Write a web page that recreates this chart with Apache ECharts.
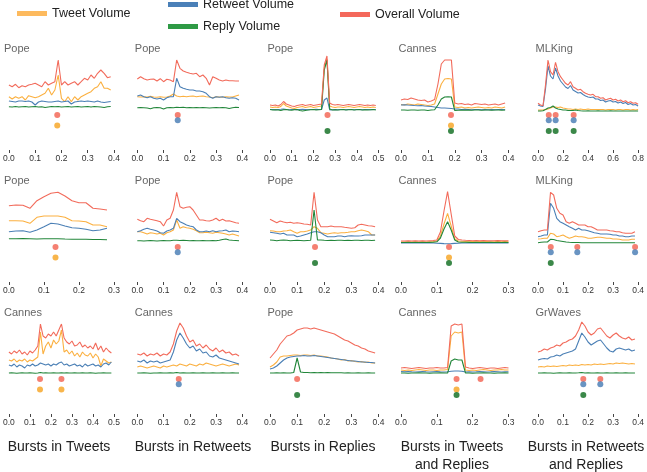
<!DOCTYPE html>
<html><head><meta charset="utf-8">
<script src="https://cdn.jsdelivr.net/npm/echarts@6/dist/echarts.min.js"></script>
<style>html,body{margin:0;padding:0;background:#fff}#c{width:647px;height:472px}</style>
</head><body><div id="c"></div>
<script>
// ---- Row 1 ----
const R1C1_TWEET   = [15.3,13,15.3,13.7,15.3,12,16.3,15.3,14.3,15.3,17,18.7,23.7,17,22,37,13.7,10.3,15.3,10.3,15.3,12,15.3,17,18.7,20.3,23.7,25.3,30.3,23.7,23.7,22];
const R1C1_RETWEET = [11,10.5,10,11,11,10.5,11,10,7,10,11,10.5,10,10,10.5,11,10,10.5,11,8,10,10.5,11,10.5,11,10.5,10,11,10,9.5,10,10.5];
const R1C1_REPLY   = [5.3,5,5.5,5,5.3,5.5,5,5.3,5.5,5,5.3,4.5,5,5.5,5.3,5.5,5,5.3,5.5,5,5.3,5.5,5,5.3,5.5,5,5.5,5.3,5,4.5,5.3,5.5];
const R1C1_OVERALL = [27,25.3,27.7,24.3,26.3,25.3,27,27.7,28.7,27,25.3,30.3,27,28.7,30.3,52,27,30.3,27,28.7,30.3,27,30.3,33.7,32,37,33.7,38.7,42,38.7,34.3,35.3];
const R1C1_BURSTS  = {overall:[0.184], tweet:[0.184]};

const R1C2_TWEET   = [15.3,15,15.3,15,15.7,15,14.7,15.3,14.7,15,16,18,16,15.3,15.7,15.3,15.7,16,15.3,15.7,16,15.3,15,14.3,15.3,15,14.7,15.3,15,15,16,17];
const R1C2_RETWEET = [16,17,15.3,14.3,15.3,13.7,13,13.7,12,14.3,15.3,15.3,33.7,25.3,23.7,22.7,22,22,21,21,20.3,18.7,15.3,13.7,15.3,14.7,15.3,14.3,13.7,14.3,13.7,12];
const R1C2_REPLY   = [4.3,4.5,4.3,4,3.3,4.3,4.5,4.3,3,4.3,4.5,4.3,4.7,4.5,4.7,4.3,4.5,4.3,4.5,4.3,4.5,4.3,4,4.3,4.5,4.3,4.5,4.3,3.5,4.3,4.7,4.5];
const R1C2_OVERALL = [33,35.3,33.3,32,32.7,33,31,33.3,30.3,32.7,32,30.3,52,43.7,41,39.7,38.7,38,38.7,35.3,37,33.7,27,35.3,33.7,32,31,32,31.3,31.3,31,31];
const R1C2_BURSTS  = {overall:[0.154], retweet:[0.154]};

const R1C3_TWEET   = [5,4.5,5,4.5,5.5,8.5,6,5,4,3.5,4.5,5,5.5,4.5,5,5.5,4.5,5,5.5,6,44,53,6,5,4.5,5,5,4.5,5,5.5,5,4.5,5,5.5,5,4.5,5,4.5,5,4.5];
const R1C3_RETWEET = [2.5,2.5,2.3,2.5,2.7,3,2.5,2.3,2.5,2.5,2.3,2.5,2.7,2.5,2.3,2.5,2.5,2.7,2.5,2.5,12,14,2,2.3,2.5,2.3,2.5,2.5,2.3,2.5,2.5,2.3,2.5,2.5,2.3,2.5,2.5,2.3,2.5,2.5];
const R1C3_REPLY   = [2.5,2,2.3,2,1.5,2.3,2.5,2,1.8,2.2,2.5,1.5,1,1.5,2,2.3,2.5,2,2.3,2.5,42,52,3,2,2.3,2,2.3,2.5,2,2.3,2.5,2,2.3,2.5,2,2.3,2,2.3,2.5,2];
const R1C3_OVERALL = [7,6.5,7,6,7.5,10.5,8,7,6,5.5,6.5,7,7.5,6.5,7,7.5,6.5,7,7.5,8,47,56,9,7.5,7,7.5,7,6.5,7,7.5,7,6.5,7,7.5,7,6.5,7,6.5,7,6.5];
const R1C3_BURSTS  = {overall:[0.265], reply:[0.265]};

const R1C4_TWEET   = [7.5,7,8,7.5,7,8,7.5,7,6.5,7,8,18,28,33,33.5,33,5,4.5,5,4,4.5,4,4.5,5,4.5,4,4.5,4,5,4.5,4,5];
const R1C4_RETWEET = [7,7.3,7,6.8,6.5,6.3,6.5,6,5.8,5.5,5,4.5,4,4,3.8,3.5,3,3,2.5,2.7,2.5,2.3,2.5,2.5,2.3,2.5,2.3,2.5,2.3,2.5,2.5,2.3];
const R1C4_REPLY   = [2,2,1.8,2,2,1.8,2,2,1.5,2,2.3,7,13,15,15.3,15,1.5,1.8,2,1.8,2,1.8,2,2,1.8,2,2,1.8,2,2,1.8,2];
const R1C4_OVERALL = [12,13,12.5,14,13,12,11.5,12,10,11,12.5,28,48,52,52,52,9,8,8.5,7.5,8,7,8.5,8,7.5,8,7,7.5,8,7,8,9];
const R1C4_BURSTS  = {overall:[0.186], tweet:[0.186], reply:[0.186]};

const R1C5_TWEET   = [2,2,2,2.5,3,4,5,5,4.5,5,4,3.5,3,3,2.5,3,2.5,3,2.5,2.5,3,2.5,2.5,2.5,2.5,2.5,2.5,2,2.5,2.5,2.5,2,2.5,2.5,2,2.5,2.5,2,2.5,2,2.5];
const R1C5_RETWEET = [7,6,5.5,23,46,36,33,44,36,31,28,25,23.5,26.5,22,20.5,19,19.5,17.5,16,15,14.5,15,13,13,11.5,12,10,11,11.5,10,10.5,9,10,8.5,9.5,7.5,8.5,7,7.5,6];
const R1C5_REPLY   = [1,1,1.2,2.5,4,4.5,6,4,3,2.5,2,2,1.5,1.5,1.5,2,1.5,1.2,1,1,1.2,1,1,1,1.2,1,1,1,1,1.2,1,1,1,1,1,1,1,1,1,1,1];
const R1C5_OVERALL = [8.7,7,6.3,27,52,40.3,37,49.7,40.3,35.3,32,28.7,27,30.3,25.3,23.7,22,22.7,20.3,18.7,17.7,17,17.7,15.3,15.3,13.7,14.3,12,13,13.7,12,12.7,11,12,10.3,11.3,9.3,10.3,8.7,9.3,7.7];
const R1C5_BURSTS  = {overall:[0.086,0.141,0.285], retweet:[0.086,0.141,0.285], reply:[0.086,0.141,0.285]};

// ---- Row 2 ----
const R2C1_TWEET   = [23.3,23.3,23,20.7,26.7,28,28,28,26.7,23.3,23,22.3,19,19,17.3];
const R2C1_RETWEET = [12.3,13,13.3,11.7,14,17.3,20.7,20,18,16.3,15.7,14.7,13.3,14,15.7];
const R2C1_REPLY   = [5.3,5.3,5.5,5.3,5,5.2,5.3,5.3,5,4.8,4.8,4.7,4.5,4.5,4.3];
const R2C1_OVERALL = [38.3,39,38.7,35.7,43.3,47.3,50.7,51.7,48,43.3,41.3,41.3,35.7,35,34];
const R2C1_BURSTS  = {overall:[0.133], tweet:[0.133]};

const R2C2_TWEET   = [12.3,12.3,11.3,10,11.3,10.7,10,10.7,9,11.3,12.3,14,24,15.7,17.3,16.3,15.7,14.7,13.3,11.3,11.3,11.7,11.3,10.7,11.7,11.3,10.7,10,9,10,9,8];
const R2C2_RETWEET = [12.3,13.3,14.7,15.7,14.7,14,13,11.3,10.7,13,14,15.7,25.7,22.3,20.7,19,18,17.3,14,12.3,12.3,13,12.3,13.3,12.3,13,13.3,14,12.3,13,12.7,12.3];
const R2C2_REPLY   = [3.3,3.3,3,3.3,3.5,3.3,3,3.3,3.5,3.3,3.3,3.7,3.7,3.5,3.7,3.5,3.3,3.5,3.3,3.3,3.5,3.3,3.3,3.5,3.3,3.7,4.5,5,4,3.7,3.5,3.3];
const R2C2_OVERALL = [24.7,23.3,22.3,25.7,24.7,24,23.3,22.3,18,24,25.7,34,51.7,37.3,35.7,36.7,37.3,34,29,24,24,23.3,23,24,25.7,23.3,24.7,23,23.3,22.3,21.3,20.7];
const R2C2_BURSTS  = {overall:[0.154], retweet:[0.154]};

const R2C3_TWEET   = [13.3,13,12.3,12.3,13,13.3,14,12.3,10.7,12.3,12.3,13,14,17.3,15.7,11.3,10.7,10,10.7,11.3,10.7,11.3,11.3,11.7,12.3,12.3,13.3,14,13.3,12.3,9,9];
const R2C3_RETWEET = [11.7,11.3,10.7,10,10.7,9,9,9,7.3,8,9,10,11.3,12.3,12.3,11.3,9,7.3,7.3,7.3,8,8,7.3,8,8.3,8,8,8.3,9,9,9,9];
const R2C3_REPLY   = [4,3.7,3.3,3.7,4,3.7,3.3,3.5,3.7,3.5,3.3,3.5,3.7,34,4,4,3.7,3.5,3.7,3.5,3.7,3.7,3.5,3.7,3.5,3.7,3.7,3.5,3.7,3.7,3.5,3.7];
const R2C3_OVERALL = [24.7,23,21.3,23,22,21.3,21.7,20.7,21.3,20.7,20,19.7,19,51.7,24,17.3,17.3,17.3,18,17.3,17.3,17.3,16.7,16.3,15.7,16.3,19,19.7,19,18.3,18,17.3];
const R2C3_BURSTS  = {overall:[0.166], reply:[0.166]};

const R2C4_TWEET   = [2,2,2.2,2,2.3,2,2.2,2,2.3,2.5,3,8,20,30.7,18,5,3,2.7,2.5,2.3,2.5,2.3,2.5,2.3,2.5,2.3,2.3,2.5,2.3,2.5,2.3];
const R2C4_RETWEET = [1,1,1,1,1,1,1,1,1,1,0.8,0.6,0.4,0.3,0.4,0.6,0.8,1,1,1,1,1,1,1,1,1,1,1,1,1,1];
const R2C4_REPLY   = [1.5,1.5,1.6,1.5,1.6,1.5,1.6,1.5,1.6,1.7,2.2,6,15,22.3,14,4,2,1.8,1.7,1.6,1.5,1.6,1.5,1.6,1.5,1.6,1.5,1.6,1.5,1.6,1.5];
const R2C4_OVERALL = [3,3,3.2,3,3.3,3,3.2,3,3.3,3.5,4,12,33,52.3,30,8,4.5,4,3.7,3.5,3.3,3.5,3.3,3.5,3.3,3.2,3.3,3.5,3.3,3.2,3.3];
const R2C4_BURSTS  = {overall:[0.134], tweet:[0.134], reply:[0.134]};

const R2C5_TWEET   = [5,5.3,5.7,5.7,10.7,10,7.3,8,9,7.3,5.7,6.7,8,7.3,7.3,6.7,5.7,5.7,6.3,6.7,6.7,6.3,5.7,5.7,5,5,4.7,4,4,4,4.7,4.7];
const R2C5_RETWEET = [7.3,8,9,9,40.7,35.7,25.7,22.3,20.7,19,17.3,15.7,14,15.7,14,14,13.3,12.3,11.3,10.7,10,10,10,9.7,9,9,8,8,7.3,7.3,8,8];
const R2C5_REPLY   = [1.3,1.7,2,2,4.7,4.5,3.5,3,2.5,2,1.7,1.5,1.5,1.5,1.3,1.3,1.3,1.3,1.3,1.3,1.3,1.3,1.3,1.3,1.3,1.3,1.3,1.3,1.3,1.3,1.3,1.3];
const R2C5_OVERALL = [12.3,13.3,14,14,51.7,49,35.7,30.7,29,22.3,20.7,22.3,20.7,19,19,19,17.3,17.3,15.7,14,14,14,14,13.3,13,12.3,12.3,11.3,10.7,10.7,10.7,12.3];
const R2C5_BURSTS  = {overall:[0.051,0.157,0.388], retweet:[0.051,0.157,0.388], reply:[0.051]};

// ---- Row 3 ----
const R3C1_TWEET   = [16,15,17,14,16,15,17,14,16,15,17,19,44,22,30,34,28,36,32,35,46,24,26,22,25,20,23,19,24,21,20,23,18,22,19,10,17,15,13,14];
const R3C1_RETWEET = [11,10,12,9,11,10,8,11,10,12,10,11,13,12,11,12,10,12,11,13,14,11,12,10,11,12,10,11,9,12,10,11,12,10,11,9,12,13,11,14];
const R3C1_REPLY   = [3,3.2,3,2.8,3,3.2,3,3,3.2,3,2.8,3,3.5,3,3.2,3,3,3.2,3,3,3.3,3,3.2,3,3,3.2,3,3,3.2,3,3,3.2,3,2.8,3,3,3.2,3,3,3];
const R3C1_OVERALL = [24,22,25,23,26,22,24,21,25,23,26,30,52,40,38,42,40,44,40,46,52,38,34,32,35,30,31,34,29,31,28,30,27,33,26,30,24,28,25,23];
const R3C1_BURSTS  = {overall:[0.148,0.25], tweet:[0.148,0.25]};

const R3C2_TWEET   = [9,10,9,8,9,10,9,8,10,9,10,11,10,12,11,10,12,11,10,12,11,13,12,11,10,11,12,11,10,11,12,11];
const R3C2_RETWEET = [15,14,16,13,15,14,15,13,14,15,16,24,36,43,38,32,28,30,25,27,23,24,20,19,21,18,17,16,15,14,13,12];
const R3C2_REPLY   = [3,3,3.2,3,2.8,3,3,3.3,3,3,3.2,3,3.5,3,3.2,3,3,3.2,3,3,3.2,3,3,3.2,3,3,3.2,3,3,3.2,3,3];
const R3C2_OVERALL = [22,21,23,20,22,21,23,20,22,21,24,32,45,53,48,40,34,36,30,32,28,31,27,25,28,24,26,23,24,21,22,20];
const R3C2_BURSTS  = {overall:[0.158], retweet:[0.158]};

const R3C3_TWEET   = [9,11,14,19,20,20,20.5,21,21,20.5,21,21,20.5,21,20,20,19.5,19,18,17.5,17,16,16.5,15,15.5,14.5,14,14.5,13.5,14,13,13];
const R3C3_RETWEET = [7,8,10,13,16,18,19,19.5,20,20,20.5,20,20,20.5,20,19.5,19,18.5,18,17.5,17,16.5,16,15.5,15,15,14.5,14,14,13.5,13.5,13];
const R3C3_REPLY   = [3,3,3.2,3,3.2,3,3,3.5,18,4,3.5,3.5,3.3,3.5,3.3,3.5,3.3,3.5,3.3,3.2,3.3,3.2,3,3.2,3,3,3.2,3,3,3.2,3,3];
const R3C3_OVERALL = [18,22,26,32,36,40,41,43,46,47,48,48,47,48,47,46,45,44,43,42,40,38,36,35,33,31,30,28,27,25,24,23];
const R3C3_BURSTS  = {overall:[0.1], reply:[0.1]};

const R3C4_TWEET   = [6,5.5,6,5.5,6,6.5,6,5.5,6,6,5.5,6,6,6.5,40,44,43,44,6,5.5,6,5.5,6,6.5,6,5.5,6,6,6.5,6,6];
const R3C4_RETWEET = [4.5,4.3,4.5,4.2,4,4.3,4.5,4.2,4,4.3,4.5,4.2,4,4.3,4.8,5,5,4.8,4,4.3,4,4.2,4.5,4.3,4,4.2,4.5,4.3,4,4.2,4.3];
const R3C4_REPLY   = [3,3,2.8,3,3,3.2,3,3,2.8,3,3,3.2,3,3,15,17,16,16,3,3,2.8,3,3,3.2,3,3,2.8,3,3,3.2,3];
const R3C4_OVERALL = [8,8.5,8,7.5,8,8.5,8,7.5,8,8,8.5,8,8,8.5,50,52,51,52,9,8,7.5,8,8.5,8,7.5,8,8,7.5,8,8.5,8];
const R3C4_BURSTS  = {overall:[0.155,0.222], tweet:[0.155], reply:[0.155]};

const R3C5_TWEET   = [9,9.5,9,10,9.5,10,9.5,10,10.5,10,11,10.5,11,10.5,11.5,11,11.5,11,12,11.5,12,11.5,12,12.5,12,13,12.5,13,12.5,12,12.5,12];
const R3C5_RETWEET = [16,17,17.5,17,19,19.5,21,20,22,23,24,25,27,35,43,39,34,31,33,35,36,32,28,25,24,27,28,27,26,27,25,26];
const R3C5_REPLY   = [3,3,3.2,3,3,2.8,3,3.2,3,3,3.2,3,3,3.2,3.5,3,3.2,3,3,3.2,3,3,3.2,3,3,3.2,3,3,3.2,3,3,3];
const R3C5_OVERALL = [24,25,27,26,28,29,31,30,33,34,36,37,40,46,54,50,44,41,43,47,48,44,40,38,41,43,40,38,37,39,36,37];
const R3C5_BURSTS  = {overall:[0.181,0.249], retweet:[0.181,0.249], reply:[0.181]};

// ---- labels ----
const PANEL_TITLES = [
  ['Pope','Pope','Pope','Cannes','MLKing'],
  ['Pope','Pope','Pope','Cannes','MLKing'],
  ['Cannes','Cannes','Pope','Cannes','GrWaves']
];
const X_MAX = [
  [0.4,0.4,0.5,0.4,0.8],
  [0.3,0.4,0.4,0.3,0.4],
  [0.5,0.4,0.4,0.3,0.4]
];
const BIN_STEP = [
  [0.0125,0.0125,0.0125,0.0125,0.02],
  [0.02,0.0125,0.0125,0.01,0.0125],
  [0.0125,0.0125,0.0125,0.01,0.0125]
];
const COLUMN_LABELS = ['Bursts in Tweets','Bursts in Retweets','Bursts in Replies','Bursts in Tweets\nand Replies','Bursts in Retweets\nand Replies'];
const SERIES_NAMES = {tweet:'Tweet Volume', retweet:'Retweet Volume', reply:'Reply Volume', overall:'Overall Volume'};

const DATA = {
  R1C1:[R1C1_TWEET,R1C1_RETWEET,R1C1_REPLY,R1C1_OVERALL,R1C1_BURSTS],
  R1C2:[R1C2_TWEET,R1C2_RETWEET,R1C2_REPLY,R1C2_OVERALL,R1C2_BURSTS],
  R1C3:[R1C3_TWEET,R1C3_RETWEET,R1C3_REPLY,R1C3_OVERALL,R1C3_BURSTS],
  R1C4:[R1C4_TWEET,R1C4_RETWEET,R1C4_REPLY,R1C4_OVERALL,R1C4_BURSTS],
  R1C5:[R1C5_TWEET,R1C5_RETWEET,R1C5_REPLY,R1C5_OVERALL,R1C5_BURSTS],
  R2C1:[R2C1_TWEET,R2C1_RETWEET,R2C1_REPLY,R2C1_OVERALL,R2C1_BURSTS],
  R2C2:[R2C2_TWEET,R2C2_RETWEET,R2C2_REPLY,R2C2_OVERALL,R2C2_BURSTS],
  R2C3:[R2C3_TWEET,R2C3_RETWEET,R2C3_REPLY,R2C3_OVERALL,R2C3_BURSTS],
  R2C4:[R2C4_TWEET,R2C4_RETWEET,R2C4_REPLY,R2C4_OVERALL,R2C4_BURSTS],
  R2C5:[R2C5_TWEET,R2C5_RETWEET,R2C5_REPLY,R2C5_OVERALL,R2C5_BURSTS],
  R3C1:[R3C1_TWEET,R3C1_RETWEET,R3C1_REPLY,R3C1_OVERALL,R3C1_BURSTS],
  R3C2:[R3C2_TWEET,R3C2_RETWEET,R3C2_REPLY,R3C2_OVERALL,R3C2_BURSTS],
  R3C3:[R3C3_TWEET,R3C3_RETWEET,R3C3_REPLY,R3C3_OVERALL,R3C3_BURSTS],
  R3C4:[R3C4_TWEET,R3C4_RETWEET,R3C4_REPLY,R3C4_OVERALL,R3C4_BURSTS],
  R3C5:[R3C5_TWEET,R3C5_RETWEET,R3C5_REPLY,R3C5_OVERALL,R3C5_BURSTS]
};

// ---- styling / layout ----
const FONT = 'Liberation Sans, Arial, Helvetica, sans-serif';
const LINE_COLORS = {tweet:'#FBB040', retweet:'#4A7FB5', reply:'#22863A', overall:'#F26B5B'};
const LEGEND_COLORS = {tweet:'#FDBA5E', retweet:'#4A80B8', reply:'#2E9A45', overall:'#F4685B'};
const DOT_COLORS = {overall:'#F2604F', retweet:'#4479B3', tweet:'#F6A21E', reply:'#0A6A1C'};
const DOT_LEVEL = {overall:0, retweet:1, tweet:2, reply:3};
const COL_LEFT = [6.5,137.3,270,401,538];
const COL_W = [107.5,105,108.5,107.5,102.5];
const LABEL_CX = [59,193,323,452,586];
const ROW_PITCH = 132, TOP0 = 55, GH = 95;

const grid=[], xAxis=[], yAxis=[], series=[], title=[];
const KEYS = ['tweet','retweet','reply','overall'];
let k = 0;
for (let r=0; r<3; r++) for (let c=0; c<5; c++) {
  const d = DATA['R'+(r+1)+'C'+(c+1)];
  const top = TOP0 + r*ROW_PITCH;
  const xmax = X_MAX[r][c], step = BIN_STEP[r][c];
  grid.push({left:COL_LEFT[c], top:top, width:COL_W[c], height:GH});
  xAxis.push({gridIndex:k, type:'value', min:0, max:xmax, interval: xmax>0.6?0.2:0.1,
    axisLine:{show:false, onZero:false}, splitLine:{show:false},
    axisTick:{show:true, length:3, lineStyle:{color:'#444', width:1}},
    axisLabel:{fontSize:8.5, color:'#333', margin:4, fontFamily:FONT, formatter:v=>v.toFixed(1)}});
  yAxis.push({gridIndex:k, type:'value', min:-38, max:57, show:false});
  yAxis.push({gridIndex:k, type:'value', min:-11.32, max:6.6, inverse:true, show:false});
  KEYS.forEach((key,j)=>{
    series.push({type:'line', name:SERIES_NAMES[key], xAxisIndex:k, yAxisIndex:2*k,
      data:d[j].map((v,i)=>[+(i*step).toFixed(4), v]), symbol:'none', clip:false,
      lineStyle:{width:1.1, color:LINE_COLORS[key]}, itemStyle:{color:LINE_COLORS[key]}, z:2+j});
  });
  const b = d[4];
  ['overall','retweet','tweet','reply'].forEach(key=>{
    if (!b[key]) return;
    series.push({type:'scatter', name:key+' bursts', xAxisIndex:k, yAxisIndex:2*k+1,
      data:b[key].map(x=>[x, DOT_LEVEL[key]]), symbolSize:6, itemStyle:{color:DOT_COLORS[key]}, z:10});
  });
  title.push({text:PANEL_TITLES[r][c], left:COL_LEFT[c]-2.5, top:43.5+r*ROW_PITCH, padding:0,
    textStyle:{fontSize:11, color:'#666', fontWeight:'normal', fontFamily:FONT}});
  k++;
}

const legendCommon = {icon:'rect', itemWidth:30, itemHeight:5, padding:0, selectedMode:false,
  textStyle:{fontSize:12.5, color:'#222', fontFamily:FONT}};
const legend = [
  Object.assign({left:17, top:7, data:[{name:'Tweet Volume', itemStyle:{color:LEGEND_COLORS.tweet}}]}, legendCommon),
  Object.assign({left:168, top:-2, data:[{name:'Retweet Volume', itemStyle:{color:LEGEND_COLORS.retweet}}]}, legendCommon),
  Object.assign({left:168, top:20, data:[{name:'Reply Volume', itemStyle:{color:LEGEND_COLORS.reply}}]}, legendCommon),
  Object.assign({left:340, top:8, data:[{name:'Overall Volume', itemStyle:{color:LEGEND_COLORS.overall}}]}, legendCommon)
];

const graphic = COLUMN_LABELS.map((t,c)=>({type:'text', x:LABEL_CX[c], y:438,
  style:{text:t, align:'center', verticalAlign:'top', fontSize:14, fontFamily:FONT, fill:'#222', lineHeight:18}}));

const chart = echarts.init(document.getElementById('c'), null, {renderer:'canvas'});
chart.setOption({animation:false, backgroundColor:'#fff', textStyle:{fontFamily:FONT},
  grid, xAxis, yAxis, series, title, legend, graphic});
</script></body></html>
